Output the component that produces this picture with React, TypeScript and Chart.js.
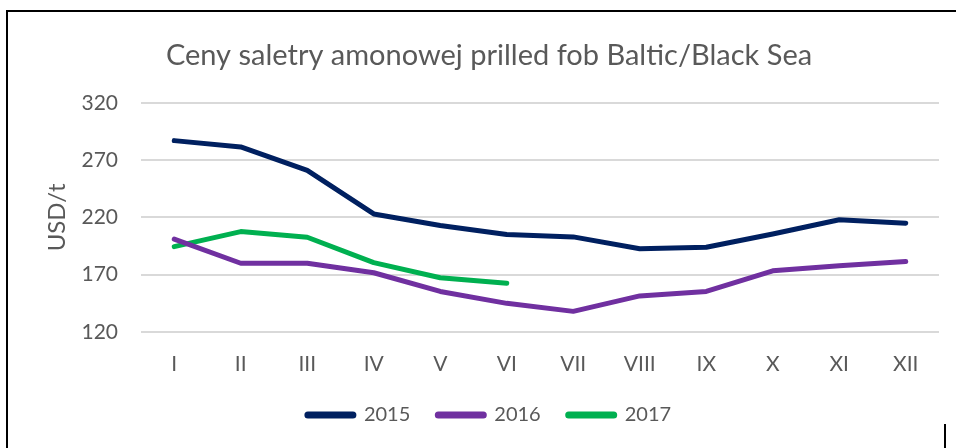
import React, { useEffect, useRef } from "react";
import { Chart, registerables } from "chart.js";

Chart.register(...registerables);

const months = ["I", "II", "III", "IV", "V", "VI", "VII", "VIII", "IX", "X", "XI", "XII"];
const series2015 = [287, 281.5, 261, 223, 213, 205, 203, 192.7, 194, 205.5, 218, 215];
const series2016 = [201, 180, 180, 171.7, 155.4, 145, 138, 151.5, 155.4, 173.4, 177.8, 181.6];
const series2017 = [194.5, 207.6, 202.7, 180.5, 167.3, 162.6];
const yTicks = [120, 170, 220, 270, 320];

const TEXT = "#595959";
const FONT = "Lato";

const legendHeightPlugin = {
  id: "legendHeight",
  beforeLayout(chart: any) {
    const lg = chart.legend;
    if (lg && !lg._patchedFit) {
      const orig = lg.fit.bind(lg);
      lg.fit = function () {
        orig();
        this.height = 70;
      };
      lg._patchedFit = true;
    }
  },
};

export default function App() {
  const ref = useRef<HTMLCanvasElement | null>(null);

  useEffect(() => {
    document.body.style.margin = "0";
    const canvas = ref.current;
    if (!canvas) return;
    const chart = new Chart(canvas, {
      type: "line",
      data: {
        labels: months,
        datasets: [
          { label: "2015", data: series2015, borderColor: "#002060", backgroundColor: "#002060" },
          { label: "2016", data: series2016, borderColor: "#7030A0", backgroundColor: "#7030A0" },
          { label: "2017", data: series2017, borderColor: "#00B050", backgroundColor: "#00B050" },
        ].map((d) => ({
          ...d,
          borderWidth: 5,
          pointRadius: 0,
          pointHoverRadius: 0,
          tension: 0,
          borderCapStyle: "round" as const,
          borderJoinStyle: "round" as const,
          fill: false,
        })),
      },
      plugins: [legendHeightPlugin],
      options: {
        animation: false,
        responsive: false,
        maintainAspectRatio: false,
        layout: { padding: { left: 39, right: 17, top: 0, bottom: 0 } },
        plugins: {
          tooltip: { enabled: false },
          title: {
            display: true,
            text: "Ceny saletry amonowej prilled fob Baltic/Black Sea",
            color: TEXT,
            font: { family: FONT, size: 29, weight: "normal" },
            align: "center",
            padding: { top: 38, bottom: 30 },
          },
          legend: {
            position: "bottom",
            labels: {
              color: TEXT,
              font: { family: FONT, size: 20 },
              boxWidth: 47,
              boxHeight: 2,
              padding: 27,
              useBorderRadius: true,
              borderRadius: 1,
            },
          },
        },
        scales: {
          x: {
            offset: true,
            afterFit: (scale: any) => {
              scale.height = 46;
            },
            grid: { display: false, drawTicks: false },
            border: { display: false },
            ticks: { color: TEXT, font: { family: FONT, size: 21 }, padding: 20, maxRotation: 0, autoSkip: false },
          },
          y: {
            min: 120,
            max: 320,
            afterBuildTicks: (scale: any) => {
              scale.ticks = yTicks.map((v) => ({ value: v }));
            },
            afterFit: (scale: any) => {
              scale.width = 102;
            },
            grid: { color: "#D9D9D9", lineWidth: 2, drawTicks: false },
            border: { display: false },
            ticks: { color: TEXT, font: { family: FONT, size: 21 }, padding: 23 },
            title: {
              display: true,
              text: "USD/t",
              color: TEXT,
              font: { family: FONT, size: 24 },
              padding: { top: 4, bottom: 0 },
            },
          },
        },
      },
    });
    return () => chart.destroy();
  }, []);

  return (
    <div style={{ position: "fixed", left: 0, top: 0, width: 956, height: 448, background: "#fff" }}>
      <canvas ref={ref} width={956} height={448} style={{ position: "absolute", left: 0, top: 0 }} />
      <div style={{ position: "absolute", left: 6, top: 10, width: 950, height: 438, borderLeft: "2px solid #000", borderTop: "2px solid #000", boxSizing: "border-box", pointerEvents: "none" }} />
      <div style={{ position: "absolute", left: 944, top: 424, width: 2, height: 24, background: "#000" }} />
    </div>
  );
}
